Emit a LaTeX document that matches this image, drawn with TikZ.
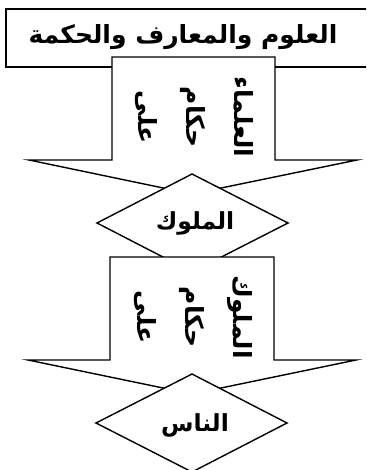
\documentclass[tikz,border=0pt]{standalone}
\usepackage{fontspec}
\newfontfamily\arabicfont[Script=Arabic]{DejaVu Sans}
\TeXXeTstate=1
\begin{document}
\begin{tikzpicture}[x=1pt,y=-1pt,
  shapeline/.style={draw=black, line width=1.4pt, fill=white, line join=miter},
  titletext/.style={font=\arabicfont\bfseries\fontsize{25}{30}\selectfont},
  boxtext/.style={font=\arabicfont\bfseries\fontsize{23.5}{28}\selectfont},
  vtext/.style={rotate=-90, align=center, font=\arabicfont\bfseries\fontsize{25}{48}\selectfont}]
\useasboundingbox (0,0) rectangle (366,470);
\clip (0,0) rectangle (366,470);
% title box
\draw[shapeline] (6,9) rectangle (380,67);
\node[titletext] (title) at (183,37) {\beginR العلوم والمعارف والحكمة\endR};
% arrow 1
\draw[shapeline] (112,57) -- (275,57) -- (275,160) -- (357,160) -- (192,194)
  -- (29,160) -- (112,160) -- cycle;
\node[vtext] (a1) at (194,117) {\beginR العلماء\endR\\\beginR حكام\endR\\\beginR على\endR};
% diamond 1
\draw[shapeline] (192,174) -- (288,223) -- (192,272) -- (97,223) -- cycle;
\node[boxtext] (d1) at (195,223) {\beginR الملوك\endR};
% arrow 2
\draw[shapeline] (110,257) -- (274,257) -- (274,360) -- (356,360) -- (192,394)
  -- (28,360) -- (110,360) -- cycle;
\node[vtext] (a2) at (193,317) {\beginR الملوك\endR\\\beginR حكام\endR\\\beginR على\endR};
% diamond 2
\draw[shapeline] (192,374) -- (287,423) -- (192,472) -- (96,423) -- cycle;
\node[boxtext] (d2) at (195,425) {\beginR الناس\endR};
\end{tikzpicture}
\end{document}
